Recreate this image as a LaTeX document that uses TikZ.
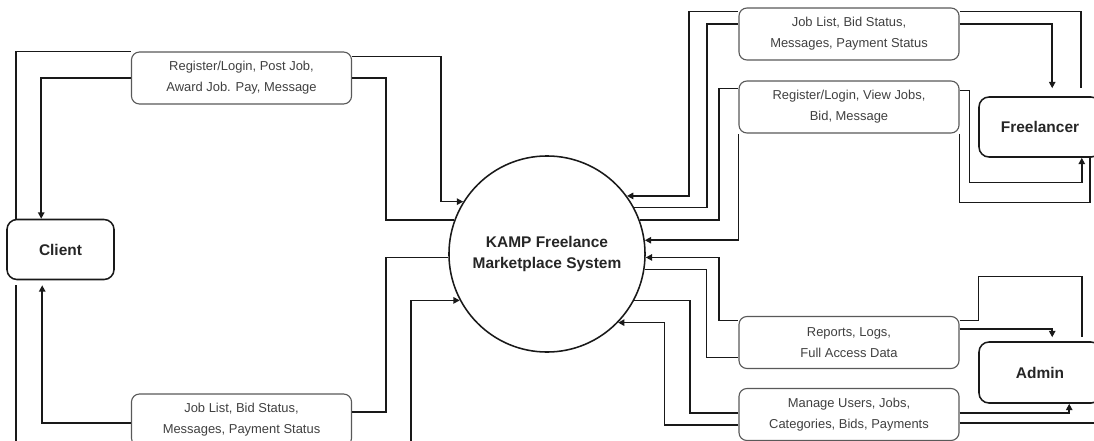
\documentclass[tikz,border=0pt]{standalone}
\usepackage{fontspec}
\setmainfont{Liberation Sans}
\usetikzlibrary{arrows.meta,calc}
\begin{document}
\begin{tikzpicture}[x=0.025cm,y=-0.025cm,>={Triangle[length=4.5pt,width=4.5pt]},
	conn/.style={line width=1.2pt,black!90},
	entity/.style={draw=black!90,line width=1.1pt,fill=white,rounded corners=0.25cm,minimum height=1.5cm,font=\fontsize{11}{13}\selectfont\bfseries,text=black!85},
	databox/.style={draw=black!65,line width=0.8pt,fill=white,rounded corners=0.2cm,minimum width=5.5cm,minimum height=1.3cm,align=center,font=\fontsize{9.2}{15}\selectfont,text=black!75},
	process/.style={circle,draw=black!90,line width=1.1pt,minimum size=4.9cm,align=center,font=\fontsize{11}{15.6}\selectfont\bfseries,text=black!85}]
	    \useasboundingbox (0,0) rectangle (1094,441);
	    \clip (0,0) rectangle (1094,441);
	    \node[process] (sys) at (547,254) {KAMP Freelance\\Marketplace System};
	    \node[entity,minimum width=2.675cm] (client) at (60.5,249.5) {Client};
	    \node[entity,minimum width=3.05cm] (freel) at (1040,127) {Freelancer};
	    \node[entity,minimum width=3.05cm,minimum height=1.525cm] (admin) at (1040,372.5) {Admin};
	    \node[databox] (boxA) at (241.5,78) {Register/Login, Post Job,\\Award Job. Pay, Message};
	    \node[databox] (boxB) at (241.5,420) {Job List, Bid Status,\\Messages, Payment Status};
	    \node[databox] (boxC) at (849,34) {Job List, Bid Status,\\Messages, Payment Status};
	    \node[databox] (boxD) at (849,107) {Register/Login, View Jobs,\\Bid, Message};
	    \node[databox] (boxE) at (849,342.5) {Reports, Logs,\\Full Access Data};
	    \node[databox] (boxF) at (849,414.5) {Manage Users, Jobs,\\Categories, Bids, Payments};
	    \draw[conn] (boxA.north west) -| ($(client.north west)+(10,0)$);
	    \draw[conn,<-] (sys.148) -- ++(-22,0) |- ($(boxA.north east)+(0,5)$);
	    \draw[conn,->] (boxA.west) -| ($(client.north west)+(35,0)$);
	    \draw[conn] (sys.160) -- ++(-68,0) |- (boxA.east);
	    \draw[conn,->] ($(boxB.west)+(0,3)$) -| ($(client.south west)+(36,5)$);
	    \draw[conn] (sys.182) -- ++(-62,0) |- ($(boxB.east)+(0,-8)$);
	    \draw[conn] ($(client.south west)+(10,5)$) -- ++(0,170);
	    \draw[conn,<-] (sys.208) -- ++(-48.5,0) -- ++(0,160);
	    \draw[conn,<-] (sys.36) -- ++(62,0) |- ($(boxC.north west)+(0,4)$);
	    \draw[conn] ($(boxC.north east)+(0,4)$) -| ($(freel.north east)+(-21,-8)$);
	    \draw[conn] (sys.28) -- ++(72.5,0) |- ($(boxC.west)+(0,-10)$);
	    \draw[conn,->] ($(boxC.east)+(0,-10)$) -| ($(freel.north west)+(74,-8)$);
	    \draw[conn] (sys.20) -- ++(79,0) |- ($(boxD.north west)+(0,8)$);
	    \draw[conn,<-] (sys.8) -| (boxD.south west);
	    \draw[conn,->] ($(boxD.north east)+(0,10)$) -- ++(10,0) -- ++(0,92) -| ($(freel.south east)+(-20,0)$);
	    \draw[conn] (boxD.south east) -- ++(0,69) -| ($(freel.south east)+(-12,0)$);
	    \draw[conn,<-] (sys.358) -- ++(73,0) |- ($(boxE.north west)+(0,4.5)$);
	    \draw[conn] (sys.351) -- ++(62,0) |- ($(boxE.south west)+(0,-11.5)$);
	    \draw[conn] ($(boxE.north east)+(0,4.5)$) -- ++(19,0) -- ++(0,-44) -| ($(admin.north east)+(-20,-4)$);
	    \draw[conn,->] ($(boxE.north east)+(0,13)$) -| ($(admin.north west)+(74,-4)$);
	    \draw[conn] (sys.332) -- ++(55.5,0) |- ($(boxF.west)+(0,-1.5)$);
	    \draw[conn,<-] (sys.316) -- ++(46.5,0) |- ($(boxF.west)+(0,10.5)$);
	    \draw[conn,->] ($(boxF.east)+(0,-1.5)$) -| ($(admin.south west)+(91,0)$);
	    \draw[conn] ($(boxF.east)+(0,8.5)$) -- ++(150,0);
\end{tikzpicture}
\end{document}
